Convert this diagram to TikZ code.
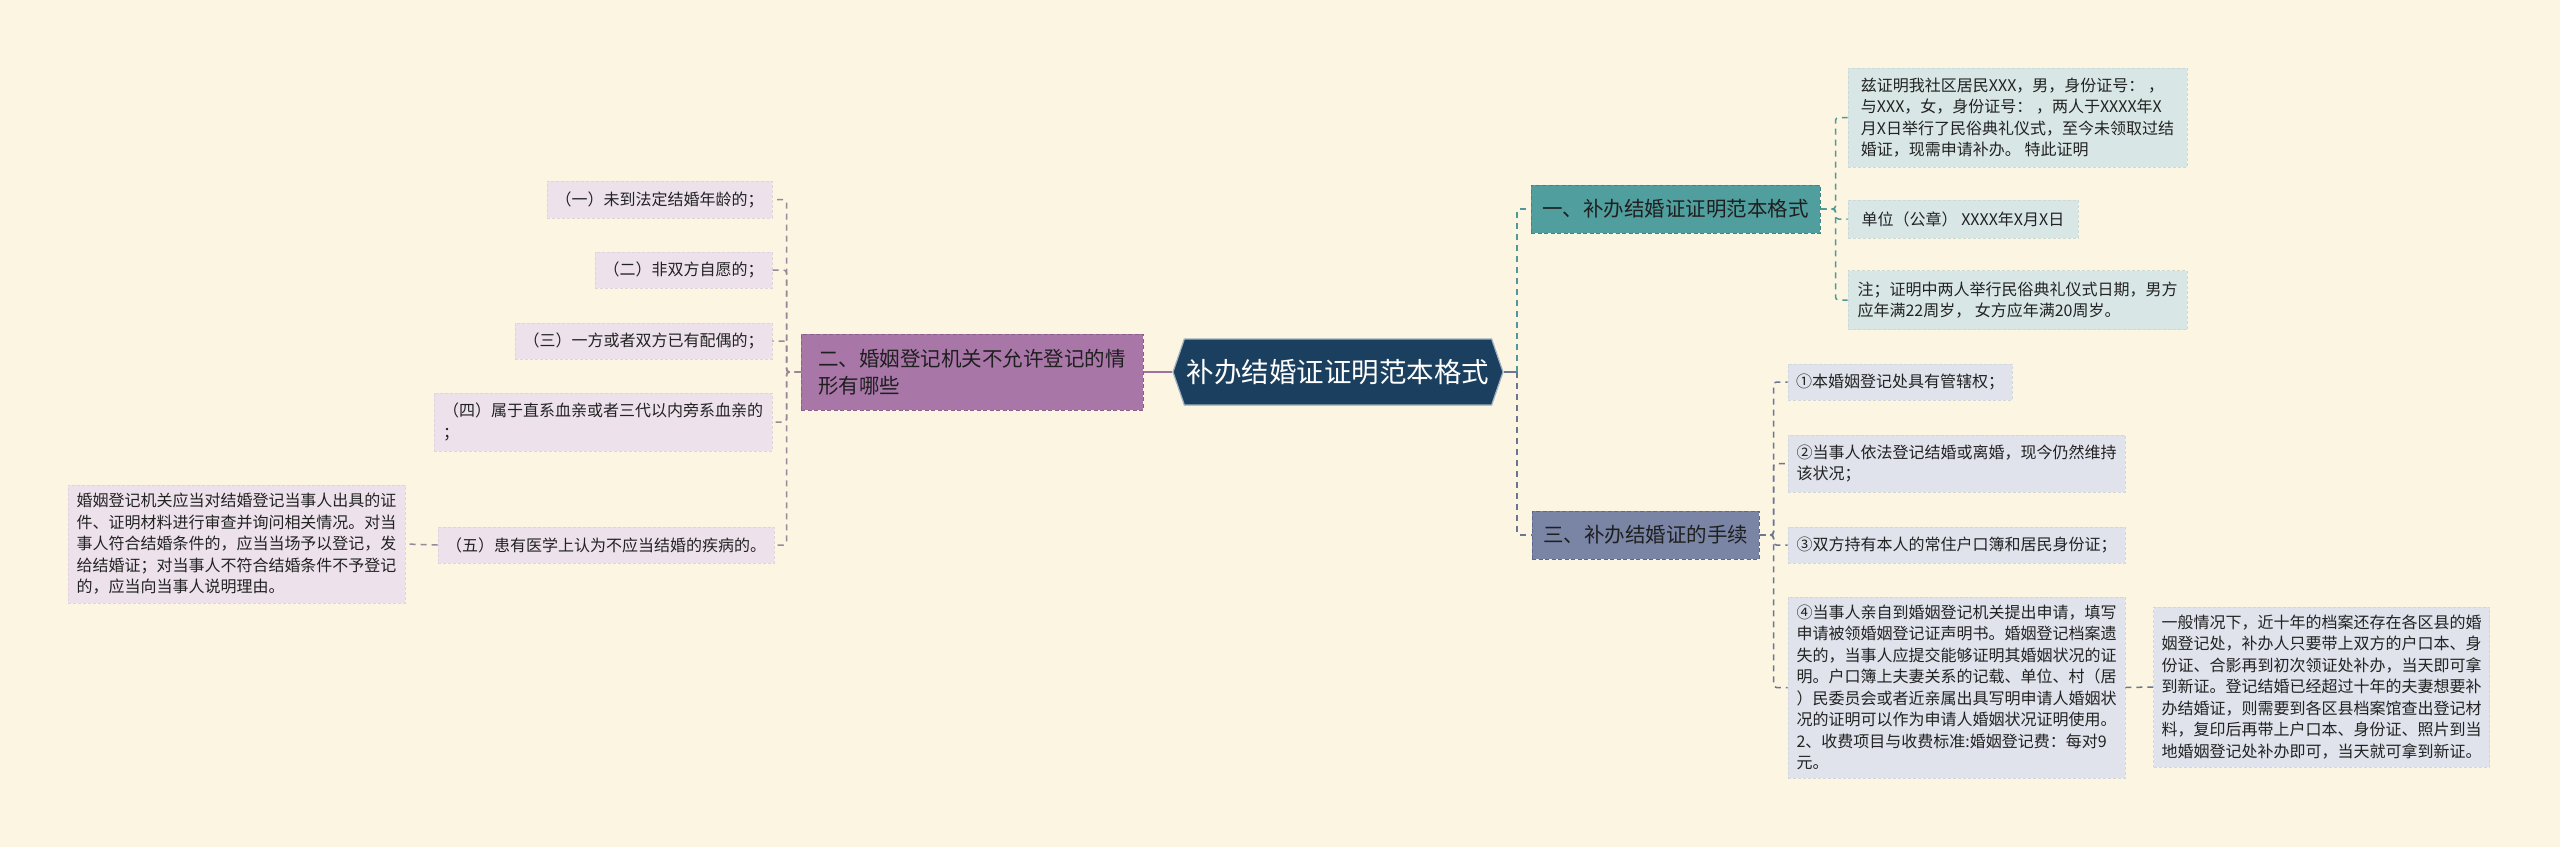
\documentclass[tikz,border=0pt]{standalone}
\usepackage{fontspec}
\setmainfont{Noto Sans CJK SC}
\usetikzlibrary{shapes.symbols}
\definecolor{cBg}{HTML}{FBF5E1}
\definecolor{cRoot}{HTML}{1B3F5E}
\definecolor{cRootB}{HTML}{9FB0C0}
\definecolor{cTeal}{HTML}{519E9E}
\definecolor{cTealB}{HTML}{3E8585}
\definecolor{cSlate}{HTML}{7A85A6}
\definecolor{cSlateB}{HTML}{5E6888}
\definecolor{cPurp}{HTML}{A877A8}
\definecolor{cPurpB}{HTML}{8C5E8C}
\definecolor{cLeafT}{HTML}{D8E7E6}
\definecolor{cLeafTB}{HTML}{C9DAD9}
\definecolor{cLeafB}{HTML}{E0E3EC}
\definecolor{cLeafBB}{HTML}{D2D6E0}
\definecolor{cLeafL}{HTML}{EDE2EC}
\definecolor{cLeafLB}{HTML}{E0D3DF}
\definecolor{cTxt}{HTML}{222222}
\definecolor{cLineT}{HTML}{4E9A9A}
\definecolor{cLineS}{HTML}{6B7594}
\definecolor{cLineL}{HTML}{9A8797}
\definecolor{cLineR}{HTML}{A070A0}
\tikzset{
  leafbase/.style={rectangle, inner xsep=8pt, inner ysep=4pt,
    font=\fontsize{16}{21.5}\selectfont, text=cTxt, align=left,
    line width=0.8pt, dash pattern=on 3pt off 2pt},
  leafT/.style={leafbase, fill=cLeafT, draw=cLeafTB},
  leafB/.style={leafbase, fill=cLeafB, draw=cLeafBB},
  leafL/.style={leafbase, fill=cLeafL, draw=cLeafLB},
  mainbase/.style={rectangle, inner xsep=10pt, inner ysep=4pt,
    font=\fontsize{20.5}{26.5}\selectfont, align=left,
    line width=1pt, dash pattern=on 4pt off 2.5pt},
  mainT/.style={mainbase, fill=cTeal, draw=cTealB, text=black!88},
  mainS/.style={mainbase, fill=cSlate, draw=cSlateB, text=black!88},
  mainP/.style={mainbase, fill=cPurp, draw=cPurpB, text=black!88},
  rootnode/.style={shape=signal, signal to=west and east, signal pointer angle=142,
    fill=cRoot, draw=cRootB, line width=1.2pt, text=white,
    font=\fontsize{27.5}{30}\selectfont, minimum width=330pt, minimum height=66pt, inner sep=0pt},
  conn/.style={line width=1.5pt, dash pattern=on 6pt off 5pt, rounded corners=3pt},
  connT/.style={conn, draw=cLineT},
  connS/.style={conn, draw=cLineS},
  connL/.style={conn, draw=cLineL},
}
\begin{document}
\begin{tikzpicture}[x=1pt,y=-1pt]
\fill[cBg] (0,0) rectangle (2560,847);
\useasboundingbox (0,0) rectangle (2560,847);

% root
\node[rootnode] (root) at (1338,372) {补办结婚证证明范本格式};

% main nodes
\node[mainT, minimum width=289pt, minimum height=48pt] (m1) at (1675.5,209) {一、补办结婚证证明范本格式};
\node[mainS, minimum width=227pt, minimum height=48pt] (m3) at (1645.5,535) {三、补办结婚证的手续};
\node[mainP, minimum width=342pt, minimum height=76pt] (m2) at (972,372) {二、婚姻登记机关不允许登记的情\\形有哪些};

% right-top leaves
\node[leafT, minimum width=339pt, minimum height=99pt] (t1) at (2017.5,117.5)
 {兹证明我社区居民XXX，男，身份证号： ，\\与XXX，女，身份证号： ，两人于XXXX年X\\月X日举行了民俗典礼仪式，至今未领取过结\\婚证，现需申请补办。 特此证明};
\node[leafT, minimum width=230pt, minimum height=38pt] (t2) at (1963,219) {单位（公章） XXXX年X月X日};
\node[leafT, minimum width=339pt, minimum height=59pt] (t3) at (2017.5,300)
 {注；证明中两人举行民俗典礼仪式日期，男方\\应年满22周岁， 女方应年满20周岁。};

% right-bottom leaves
\node[leafB, minimum width=224pt, minimum height=36pt] (b1) at (1900,382) {①本婚姻登记处具有管辖权；};
\node[leafB, minimum width=337pt, minimum height=57pt] (b2) at (1956.5,463.5) {②当事人依法登记结婚或离婚，现今仍然维持\\该状况；};
\node[leafB, minimum width=337pt, minimum height=36pt] (b3) at (1956.5,545) {③双方持有本人的常住户口簿和居民身份证；};
\node[leafB, minimum width=337pt, minimum height=181pt] (b4) at (1956.5,687.5)
 {④当事人亲自到婚姻登记机关提出申请，填写\\申请被领婚姻登记证声明书。婚姻登记档案遗\\失的，当事人应提交能够证明其婚姻状况的证\\明。户口簿上夫妻关系的记载、单位、村（居\\）民委员会或者近亲属出具写明申请人婚姻状\\况的证明可以作为申请人婚姻状况证明使用。\\2、收费项目与收费标准:婚姻登记费：每对9\\元。};
\node[leafB, minimum width=333pt, minimum height=160pt] (r1) at (2321.5,687)
 {一般情况下，近十年的档案还存在各区县的婚\\姻登记处，补办人只要带上双方的户口本、身\\份证、合影再到初次领证处补办，当天即可拿\\到新证。登记结婚已经超过十年的夫妻想要补\\办结婚证，则需要到各区县档案馆查出登记材\\料，复印后再带上户口本、身份证、照片到当\\地婚姻登记处补办即可，当天就可拿到新证。};

% left leaves
\node[leafL, minimum width=225pt, minimum height=37pt] (a1) at (659.5,199.5) {（一）未到法定结婚年龄的；};
\node[leafL, minimum width=177pt, minimum height=36pt] (a2) at (683.5,270) {（二）非双方自愿的；};
\node[leafL, minimum width=257pt, minimum height=36pt] (a3) at (643.5,341) {（三）一方或者双方已有配偶的；};
\node[leafL, minimum width=338pt, minimum height=58pt] (a4) at (603,422) {（四）属于直系血亲或者三代以内旁系血亲的\\；};
\node[leafL, minimum width=332pt, minimum height=36pt] (a5) at (606,545) {（五）患有医学上认为不应当结婚的疾病的。};
\node[leafL, minimum width=337pt, minimum height=118pt] (f1) at (236.5,544)
 {婚姻登记机关应当对结婚登记当事人出具的证\\件、证明材料进行审查并询问相关情况。对当\\事人符合结婚条件的，应当当场予以登记，发\\给结婚证；对当事人不符合结婚条件不予登记\\的，应当向当事人说明理由。};

% connectors: root
\coordinate (rj) at (1517,372);
\draw[cLineR, line width=2.5pt] (root.west) -- (m2.east);
\draw[cLineS, line width=1.5pt] (root.east) -- (rj);
\draw[connT] (rj) |- (m1.west);
\draw[connS] (rj) |- (m3.west);

% m1 -> leaves
\foreach \n in {t1,t2,t3} \draw[connT] (m1.east) -- ++(15,0) |- (\n.west);
% m3 -> leaves
\foreach \n in {b1,b2,b3,b4} \draw[connS] (m3.east) -- ++(14,0) |- (\n.west);
\draw[connS] (b4.east) -- (r1.west);
% m2 -> leaves
\foreach \n in {a1,a2,a3,a4,a5} \draw[connL] (m2.west) -- ++(-14,0) |- (\n.east);
\draw[connL] (a5.west) -- (f1.east);
\end{tikzpicture}
\end{document}
